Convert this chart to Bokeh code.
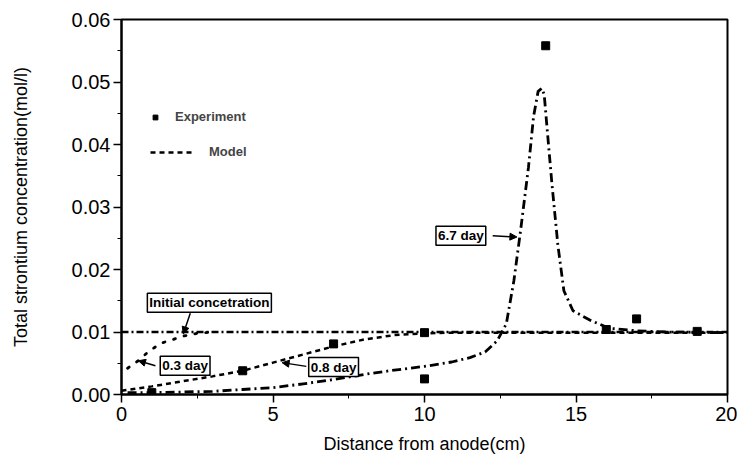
from bokeh.plotting import figure
from bokeh.models import (Range1d, SingleIntervalTicker, NumeralTickFormatter, Label, Arrow,
                          NormalHead, Legend, LegendItem)
from bokeh.embed import file_html
from bokeh.resources import INLINE

# ---- data ----
exp_x = [1, 4, 7, 10, 10, 14, 16, 17, 19]
exp_y = [0.0003, 0.0038, 0.0081, 0.0025, 0.0099, 0.0558, 0.0104, 0.0121, 0.0101]

init_x = [0, 20]
init_y = [0.0100, 0.0100]

day03_x = [0.2, 0.55, 0.9, 1.3, 1.7, 2.0, 2.5, 3.0]
day03_y = [0.0042, 0.0054, 0.0069, 0.0082, 0.0088, 0.0093, 0.0098, 0.0100]

day08_x = [0, 1, 2, 3, 4, 5, 6, 7, 8, 9, 10, 11, 12, 14, 16, 18, 20]
day08_y = [0.0006, 0.0013, 0.0021, 0.0029, 0.0038, 0.0051, 0.0064, 0.0077, 0.0088, 0.0095, 0.0098,
           0.0099, 0.0099, 0.0099, 0.0099, 0.0099, 0.0099]

day67_x = [0.2, 1, 2, 3, 4, 5, 6, 7, 8, 9, 10, 10.9, 11.5, 12.0, 12.4, 12.7, 12.95, 13.17, 13.43,
           13.6, 13.75, 13.87, 13.95, 14.06, 14.2, 14.4, 14.6, 14.9, 15.5, 16.1, 17, 18, 20]
day67_y = [0.0003, 0.0003, 0.0004, 0.0005, 0.0008, 0.0011, 0.0017, 0.0024, 0.0032, 0.0039, 0.0045,
           0.0052, 0.0059, 0.0068, 0.0086, 0.0113, 0.0182, 0.0262, 0.0363, 0.0445, 0.0485, 0.0490,
           0.0480, 0.0418, 0.0340, 0.0240, 0.0166, 0.0134, 0.0118, 0.0106, 0.0102, 0.0100, 0.0099]

x_label = "Distance from anode(cm)"
y_label = "Total strontium concentration(mol/l)"

FONT = "Liberation Sans"

p = figure(width=737, height=466, output_backend="svg", toolbar_location=None,
           x_range=Range1d(0, 20), y_range=Range1d(0, 0.06),
           min_border_left=121, min_border_right=10, min_border_top=19, min_border_bottom=72)
p.grid.visible = False
p.outline_line_color = "black"
p.outline_line_width = 2
p.background_fill_color = "white"
p.border_fill_color = "white"

p.xaxis.ticker = SingleIntervalTicker(interval=5, num_minor_ticks=2)
p.yaxis.ticker = SingleIntervalTicker(interval=0.01, num_minor_ticks=2)
p.yaxis.formatter = NumeralTickFormatter(format="0.00")
for ax in (p.xaxis, p.yaxis):
    ax.axis_line_color = "black"
    ax.axis_line_width = 2
    ax.major_tick_line_width = 1.5
    ax.major_tick_out = 8
    ax.major_tick_in = 0
    ax.minor_tick_out = 4
    ax.minor_tick_in = 0
    ax.major_label_text_font = FONT
    ax.major_label_text_font_size = "20px"
    ax.major_label_text_color = "black"
    ax.axis_label_text_font = FONT
    ax.axis_label_text_font_size = "18px"
    ax.axis_label_text_font_style = "normal"
    ax.axis_label_text_color = "black"
p.xaxis.axis_label = x_label
p.yaxis.axis_label = y_label
p.xaxis.major_label_standoff = 4
p.yaxis.major_label_standoff = 3
p.xaxis.axis_label_standoff = 10
p.yaxis.axis_label_standoff = 38

# model curves
r_init = p.line(init_x, init_y, line_color="black", line_width=2.6, line_dash="7 3 2 3")
r_03 = p.line(day03_x, day03_y, line_color="black", line_width=2.8, line_dash="2 9", line_cap="round")
r_08 = p.line(day08_x, day08_y, line_color="black", line_width=2.5, line_dash="5 4")
r_67 = p.line(day67_x, day67_y, line_color="black", line_width=2.8, line_dash="9 4 2 4",
              line_join="round")

# experiment points
r_exp = p.scatter(exp_x, exp_y, marker="square", size=8, fill_color="black", line_color="black")

# legends (two separate ones to match text offsets)
leg1 = Legend(items=[LegendItem(label="Experiment", renderers=[r_exp])],
              location=(28, 270), glyph_width=12, glyph_height=14, label_standoff=14,
              padding=0, margin=0, border_line_color=None, background_fill_alpha=0,
              label_text_font=FONT, label_text_font_style="bold", label_text_font_size="13px")
leg2 = Legend(items=[LegendItem(label="Model", renderers=[r_08])],
              location=(29, 235), glyph_width=45, glyph_height=14, label_standoff=14,
              padding=0, margin=0, border_line_color=None, background_fill_alpha=0,
              label_text_font=FONT, label_text_font_style="bold", label_text_font_size="13px")
p.add_layout(leg1, "center")
p.add_layout(leg2, "center")

# annotations
notes = [
    ("Initial concetration", 2.9, 0.0147),
    ("0.3 day", 2.1, 0.0046),
    ("0.8 day", 7.0, 0.0044),
    ("6.7 day", 11.2, 0.0254),
]
for txt, lx, ly in notes:
    p.add_layout(Label(x=lx, y=ly, text=txt, text_align="center", text_baseline="middle",
                       text_font=FONT, text_font_style="bold", text_font_size="13.5px",
                       text_color="black", border_line_color="black", border_line_width=1.5,
                       background_fill_color="white", padding=2))

arrows = [
    (2.27, 0.0130, 2.04, 0.0097),
    (1.12, 0.0046, 0.56, 0.0054),
    (6.1, 0.0045, 5.3, 0.0051),
    (12.25, 0.0254, 13.05, 0.0252),
]
for xs, ys, xe, ye in arrows:
    p.add_layout(Arrow(end=NormalHead(size=7, fill_color="black", line_color="black"),
                       x_start=xs, y_start=ys, x_end=xe, y_end=ye,
                       line_color="black", line_width=1.5))

open("out.html", "w").write(file_html(p, INLINE))
